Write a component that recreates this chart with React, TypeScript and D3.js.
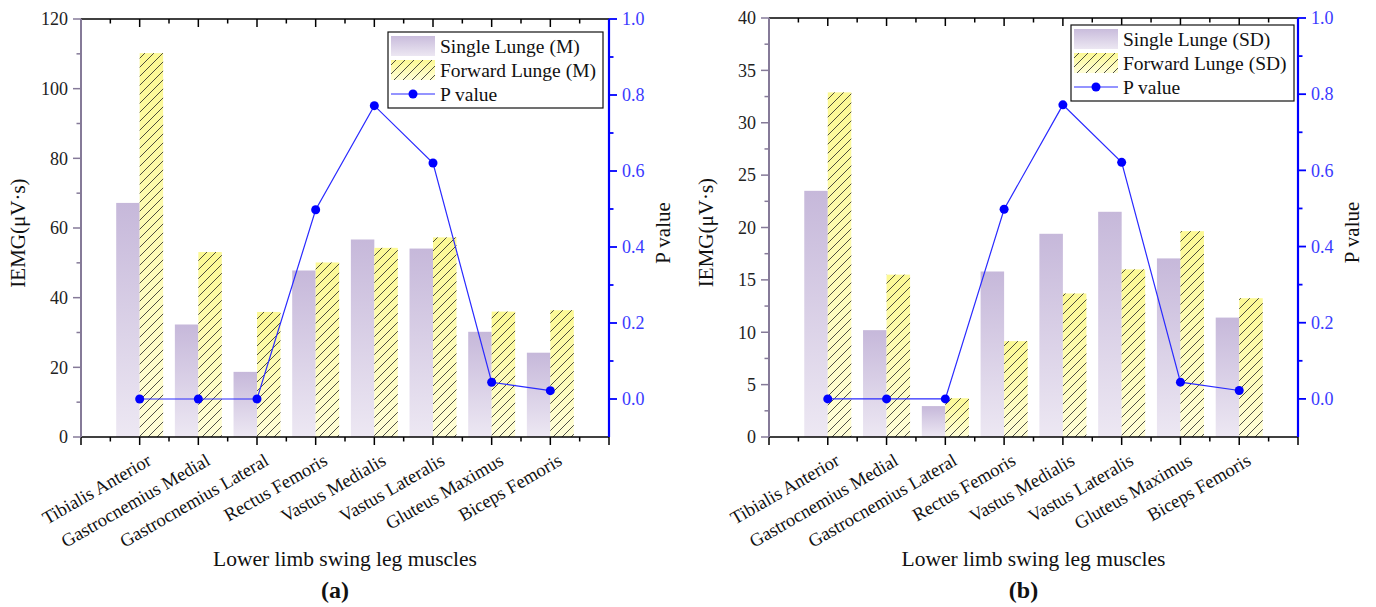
import React, { useRef, useEffect } from 'react';
import * as d3 from 'd3';

const muscles = [
  'Tibialis Anterior',
  'Gastrocnemius Medial',
  'Gastrocnemius Lateral',
  'Rectus Femoris',
  'Vastus Medialis',
  'Vastus Lateralis',
  'Gluteus Maximus',
  'Biceps Femoris',
];

// (a) means
const singleMean = [67.2, 32.3, 18.7, 47.8, 56.7, 54.1, 30.2, 24.2];
const forwardMean = [110.2, 53.1, 35.9, 50.1, 54.3, 57.3, 36.0, 36.4];
// (b) standard deviations
const singleSD = [23.5, 10.2, 2.95, 15.8, 19.4, 21.5, 17.05, 11.4];
const forwardSD = [32.9, 15.5, 3.7, 9.15, 13.7, 16.0, 19.65, 13.25];
// p values, same in both panels
const pValues = [0, 0, 0, 0.498, 0.772, 0.621, 0.044, 0.022];

const leftTicksA = [0, 20, 40, 60, 80, 100, 120];
const leftTicksB = [0, 5, 10, 15, 20, 25, 30, 35, 40];
const rightTicks = [0, 0.2, 0.4, 0.6, 0.8, 1.0];

const SERIF = '"Liberation Serif", "Times New Roman", serif';
const AXIS_GREY = '#857a98';

function drawPanel(svg, p) {
  const { left, right, top, bottom } = p;
  const g = svg.append('g');

  const x = d3.scaleLinear().domain([0, muscles.length + 1]).range([left, right]);
  const y = d3.scaleLinear().domain(p.yDomain).range([bottom, top]);
  const yP = d3.scaleLinear().domain([-0.1, 1.0]).range([bottom, top]);
  const step = x(1) - x(0);
  const bw = step * 0.4;

  // bars
  g.selectAll('.single')
    .data(p.single)
    .enter().append('rect')
      .attr('x', (d, i) => x(i + 1) - bw)
      .attr('y', d => y(d))
      .attr('width', bw)
      .attr('height', d => y(0) - y(d))
      .attr('fill', 'url(#gradSingle)');

  g.selectAll('.fwd')
    .data(p.forward)
    .enter().append('g')
    .each(function (d, i) {
      const s = d3.select(this);
      s.append('rect')
        .attr('x', x(i + 1)).attr('y', y(d))
        .attr('width', bw).attr('height', y(0) - y(d))
        .attr('fill', 'url(#gradFwd)');
      s.append('rect')
        .attr('x', x(i + 1)).attr('y', y(d))
        .attr('width', bw).attr('height', y(0) - y(d))
        .attr('fill', 'url(#hatch)');
    });

  // top frame with inward ticks
  g.append('line').attr('x1', left).attr('x2', right).attr('y1', top).attr('y2', top)
    .attr('stroke', '#000').attr('stroke-width', 1.5);
  const majorX = d3.range(0, muscles.length + 2);
  const minorX = d3.range(0.5, muscles.length + 1, 1);
  g.selectAll('.tmaj').data(majorX).enter().append('line')
    .attr('x1', d => x(d)).attr('x2', d => x(d)).attr('y1', top).attr('y2', top + 8)
    .attr('stroke', '#000').attr('stroke-width', 1.5);
  g.selectAll('.tmin').data(minorX).enter().append('line')
    .attr('x1', d => x(d)).attr('x2', d => x(d)).attr('y1', top).attr('y2', top + 4.5)
    .attr('stroke', '#000').attr('stroke-width', 1.5);

  // bottom axis
  g.append('line').attr('x1', left).attr('x2', right).attr('y1', bottom).attr('y2', bottom)
    .attr('stroke', '#000').attr('stroke-width', 1.5);
  g.selectAll('.bmaj').data(majorX).enter().append('line')
    .attr('x1', d => x(d)).attr('x2', d => x(d)).attr('y1', bottom).attr('y2', bottom + 8)
    .attr('stroke', '#000').attr('stroke-width', 1.5);
  g.selectAll('.bmin').data(minorX).enter().append('line')
    .attr('x1', d => x(d)).attr('x2', d => x(d)).attr('y1', bottom).attr('y2', bottom + 4.5)
    .attr('stroke', '#000').attr('stroke-width', 1.5);

  g.selectAll('.xlab').data(muscles).enter().append('text')
    .attr('transform', (d, i) => `translate(${x(i + 1) + 13},${bottom + 27}) rotate(-30)`)
    .attr('text-anchor', 'end')
    .attr('font-family', SERIF).attr('font-size', 18.5).attr('fill', '#111')
    .text(d => d);

  // left axis
  const lt = p.leftTicks;
  const half = (lt[1] - lt[0]) / 2;
  const leftMinor = lt.slice(0, -1).map(v => v + half);
  g.append('line').attr('x1', left).attr('x2', left).attr('y1', top).attr('y2', bottom)
    .attr('stroke', AXIS_GREY).attr('stroke-width', 2);
  g.selectAll('.lmaj').data(lt).enter().append('line')
    .attr('x1', left - 8).attr('x2', left).attr('y1', d => y(d)).attr('y2', d => y(d))
    .attr('stroke', AXIS_GREY).attr('stroke-width', 1.5);
  g.selectAll('.lmin').data(leftMinor).enter().append('line')
    .attr('x1', left - 4.5).attr('x2', left).attr('y1', d => y(d)).attr('y2', d => y(d))
    .attr('stroke', AXIS_GREY).attr('stroke-width', 1.5);
  g.selectAll('.llab').data(lt).enter().append('text')
    .attr('x', left - 13).attr('y', d => y(d)).attr('dy', '0.35em')
    .attr('text-anchor', 'end')
    .attr('font-family', SERIF).attr('font-size', 18).attr('fill', '#222')
    .text(d => d);

  // right axis
  const rightMinor = [0.1, 0.3, 0.5, 0.7, 0.9];
  g.append('line').attr('x1', right).attr('x2', right).attr('y1', top).attr('y2', bottom)
    .attr('stroke', '#0000ff').attr('stroke-width', 2.2);
  g.selectAll('.rmaj').data(rightTicks).enter().append('line')
    .attr('x1', right).attr('x2', right + 8).attr('y1', d => yP(d)).attr('y2', d => yP(d))
    .attr('stroke', '#0000ff').attr('stroke-width', 1.8);
  g.selectAll('.rmin').data(rightMinor).enter().append('line')
    .attr('x1', right).attr('x2', right + 4.5).attr('y1', d => yP(d)).attr('y2', d => yP(d))
    .attr('stroke', '#0000ff').attr('stroke-width', 1.8);
  g.selectAll('.rlab').data(rightTicks).enter().append('text')
    .attr('x', right + 13).attr('y', d => yP(d)).attr('dy', '0.35em')
    .attr('font-family', SERIF).attr('font-size', 18).attr('fill', '#3a3aff')
    .text(d => d3.format('.1f')(d));

  // p value line
  const line = d3.line().x((d, i) => x(i + 1)).y(d => yP(d));
  g.append('path').datum(pValues)
    .attr('d', line).attr('fill', 'none')
    .attr('stroke', '#2a2aff').attr('stroke-width', 1.2);
  g.selectAll('.dot').data(pValues).enter().append('circle')
    .attr('cx', (d, i) => x(i + 1)).attr('cy', d => yP(d)).attr('r', 4.5)
    .attr('fill', '#0000ff');

  // axis titles
  const midY = (top + bottom) / 2 + 5;
  g.append('text')
    .attr('transform', `translate(${left - 56},${midY}) rotate(-90)`)
    .attr('text-anchor', 'middle')
    .attr('font-family', SERIF).attr('font-size', 21).attr('fill', '#111')
    .text('IEMG(μV·s)');
  g.append('text')
    .attr('transform', `translate(${right + 61},${midY}) rotate(-90)`)
    .attr('text-anchor', 'middle')
    .attr('font-family', SERIF).attr('font-size', 21).attr('fill', '#111')
    .text('P value');
  g.append('text')
    .attr('x', (left + right) / 2).attr('y', 566)
    .attr('text-anchor', 'middle')
    .attr('font-family', SERIF).attr('font-size', 21.5).attr('fill', '#111')
    .text('Lower limb swing leg muscles');
  g.append('text')
    .attr('x', (left + right) / 2 - 10).attr('y', 598)
    .attr('text-anchor', 'middle')
    .attr('font-family', SERIF).attr('font-size', 24).attr('font-weight', 'bold').attr('fill', '#111')
    .text(p.tag);

  // legend
  const L = p.legend;
  const lg = g.append('g').attr('transform', `translate(${L.x},${L.y})`);
  lg.append('rect').attr('width', L.w).attr('height', 76)
    .attr('fill', '#fff').attr('stroke', '#111').attr('stroke-width', 1.2);
  const rows = [14, 38, 62];
  lg.append('rect').attr('x', 3).attr('y', rows[0] - 10).attr('width', 44).attr('height', 20)
    .attr('fill', 'url(#gradSingleL)');
  lg.append('rect').attr('x', 3).attr('y', rows[1] - 10).attr('width', 44).attr('height', 20)
    .attr('fill', 'url(#gradFwdL)');
  lg.append('rect').attr('x', 3).attr('y', rows[1] - 10).attr('width', 44).attr('height', 20)
    .attr('fill', 'url(#hatch)');
  lg.append('line').attr('x1', 3).attr('x2', 47).attr('y1', rows[2]).attr('y2', rows[2])
    .attr('stroke', '#2a2aff').attr('stroke-width', 1.2);
  lg.append('circle').attr('cx', 25).attr('cy', rows[2]).attr('r', 4.5).attr('fill', '#0000ff');
  lg.selectAll('.lt').data(p.legendLabels).enter().append('text')
    .attr('x', 52).attr('y', (d, i) => rows[i]).attr('dy', '0.35em')
    .attr('font-family', SERIF).attr('font-size', 19.5).attr('fill', '#111')
    .text(d => d);
}

function App() {
  const ref = useRef(null);

  useEffect(() => {
    const svg = d3.select(ref.current);
    svg.selectAll('*').remove();

    const defs = svg.append('defs');
    const grad = (id, top, bot) => {
      const lg = defs.append('linearGradient').attr('id', id)
        .attr('x1', 0).attr('y1', 0).attr('x2', 0).attr('y2', 1);
      lg.append('stop').attr('offset', '0%').attr('stop-color', top);
      lg.append('stop').attr('offset', '100%').attr('stop-color', bot);
    };
    grad('gradSingle', '#c6b8da', '#ede8f3');
    grad('gradFwd', '#fcf994', '#fffed8');
    grad('gradSingleL', '#c9bcdc', '#ece7f2');
    grad('gradFwdL', '#fcf994', '#fffed8');

    const pat = defs.append('pattern').attr('id', 'hatch')
      .attr('patternUnits', 'userSpaceOnUse')
      .attr('width', 9).attr('height', 9);
    pat.append('path').attr('d', 'M-1,10 L10,-1 M-2,2 L2,-2 M7,11 L11,7')
      .attr('stroke', '#222').attr('stroke-width', 0.8);

    drawPanel(svg, {
      left: 81, right: 609, top: 19, bottom: 437,
      yDomain: [0, 120], leftTicks: leftTicksA,
      single: singleMean, forward: forwardMean, tag: '(a)',
      legend: { x: 388, y: 32, w: 215 },
      legendLabels: ['Single Lunge (M)', 'Forward Lunge (M)', 'P value'],
    });
    drawPanel(svg, {
      left: 769, right: 1298, top: 18, bottom: 437,
      yDomain: [0, 40], leftTicks: leftTicksB,
      single: singleSD, forward: forwardSD, tag: '(b)',
      legend: { x: 1071, y: 25, w: 223 },
      legendLabels: ['Single Lunge (SD)', 'Forward Lunge (SD)', 'P value'],
    });
  }, []);

  return (
    <svg ref={ref} width={1376} height={607}
      style={{ position: 'absolute', left: 0, top: 0, background: '#fff' }} />
  );
}

export default App;
